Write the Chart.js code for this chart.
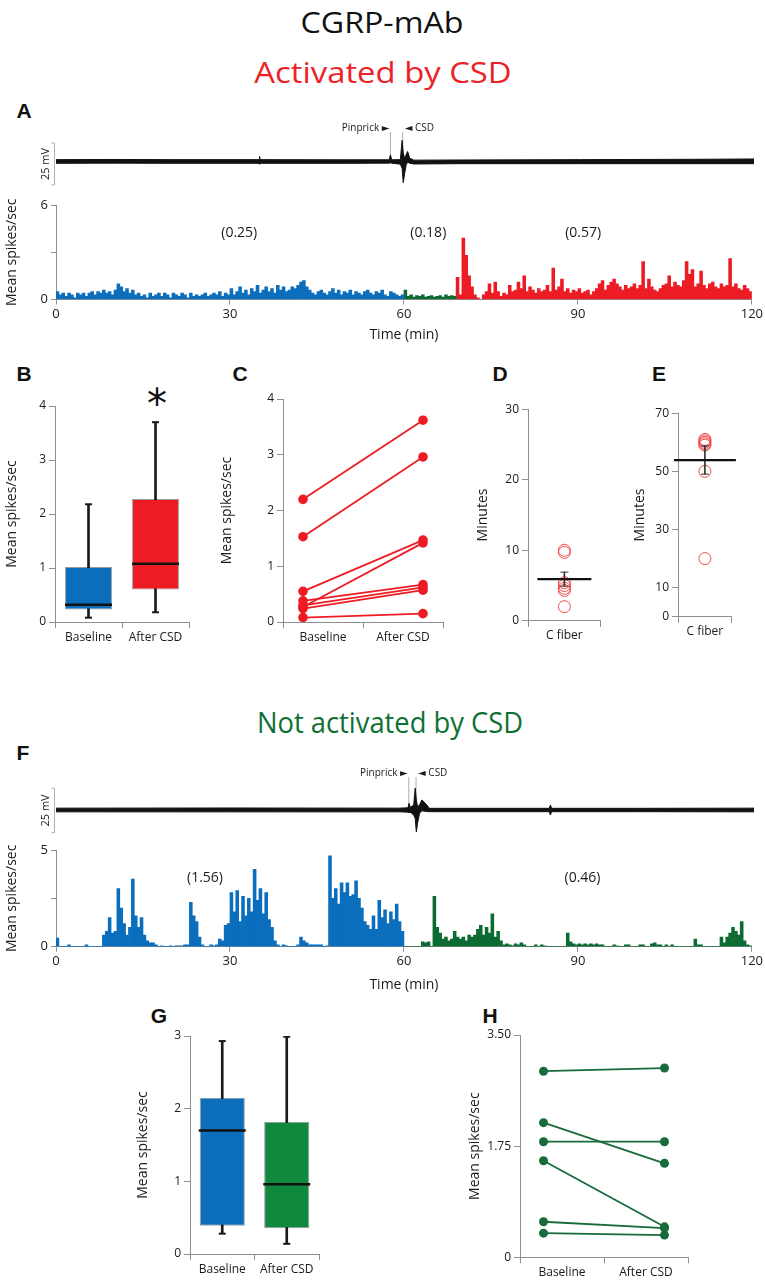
<!DOCTYPE html>
<html lang="en">
<head>
<meta charset="utf-8">
<title>CGRP-mAb</title>
<script src="https://cdn.jsdelivr.net/npm/chart.js@4.4.0/dist/chart.umd.min.js"></script>
<style>
  html, body { margin: 0; padding: 0; background: #fff; }
  #fig { position: relative; width: 765px; height: 1280px; overflow: hidden; font-family: "Open Sans", sans-serif; color: #111; }
  #fig canvas { position: absolute; }
  .txt { position: absolute; white-space: nowrap; line-height: 1; transform: translate(-50%, -50%); }
  .panel { font-family: "Liberation Sans", Arial, sans-serif; font-weight: bold; font-size: 21px; }
</style>
</head>
<body>
<div id="fig"></div>
<script>
// ---- data ----
var BIN = 0.5; // minutes per histogram bin

// A: mean spikes/sec, baseline (0-60), pre-activation (60-69), after CSD (69-120)
var histBlueA = [
  0.5, 0.3, 0.4, 0.2, 0.4, 0.3, 0.1, 0.4, 0.3, 0.4,
  0.2, 0.4, 0.5, 0.3, 0.5, 0.4, 0.6, 0.4, 0.5, 0.3,
  0.6, 1.0, 0.8, 0.5, 0.7, 0.4, 0.6, 0.3, 0.4, 0.2,
  0.3, 0.1, 0.4, 0.2, 0.3, 0.4, 0.2, 0.4, 0.3, 0.1,
  0.4, 0.3, 0.2, 0.4, 0.3, 0.1, 0.4, 0.2, 0.3, 0.2,
  0.3, 0.4, 0.2, 0.3, 0.4, 0.3, 0.5, 0.2, 0.4, 0.3,
  0.7, 0.3, 0.5, 0.8, 0.4, 0.6, 0.3, 0.7, 0.5, 0.9,
  0.4, 0.6, 0.8, 0.5, 0.7, 0.4, 0.9, 0.6, 0.8, 0.5,
  0.6, 0.8, 0.7, 0.9, 1.1, 1.2, 0.8, 0.6, 0.4, 0.3,
  0.5, 0.6, 0.4, 0.3, 0.5, 0.7, 0.4, 0.6, 0.3, 0.5,
  0.4, 0.6, 0.3, 0.5, 0.4, 0.3, 0.5, 0.6, 0.4, 0.3,
  0.5, 0.4, 0.6, 0.3, 0.2, 0.5, 0.4, 0.3, 0.2, 0.3
];
var histGreenA = [0.6, 0.2, 0.3, 0.15, 0.25, 0.2, 0.3, 0.15, 0.2, 0.25, 0.15, 0.2, 0.25, 0.15, 0.3, 0.2, 0.25, 0.2];
var histRedA = [
  1.4, 0.3, 3.9, 2.8, 1.5, 0.8, 0.3, 0.1, 0.0, 0.3,
  0.5, 1.0, 0.4, 1.1, 0.5, 0.2, 0.4, 0.3, 0.9, 0.5,
  0.6, 1.1, 0.7, 1.5, 0.5, 0.8, 0.6, 0.4, 0.7, 0.5,
  0.6, 0.9, 0.5, 2.0, 0.6, 0.8, 1.3, 0.5, 0.7, 0.4,
  0.6, 0.5, 0.7, 0.4, 0.5, 0.6, 0.3, 0.5, 0.7, 1.0,
  1.2, 0.6, 0.9, 1.1, 1.3, 1.0, 0.8, 0.6, 0.9, 0.7,
  0.8, 1.0, 0.7, 0.9, 2.4, 0.7, 1.3, 0.8, 0.6, 0.5,
  0.7, 0.9, 1.0, 1.5, 0.8, 1.1, 0.9, 0.8, 1.2, 2.4,
  1.6, 1.9, 0.8, 1.0, 1.8, 0.9, 0.7, 1.0, 1.1, 0.8,
  0.7, 1.0, 0.8, 0.9, 2.6, 0.8, 1.0, 0.7, 0.6, 0.9,
  0.7, 0.5
];
var periodTextA = ["(0.25)", "(0.18)", "(0.57)"];
var periodTimeA = [31.6, 64.2, 90.9];

// F: baseline (0-60) and after CSD (60-120)
var histBlueF = [
  0.45, 0, 0, 0, 0.1, 0, 0, 0, 0, 0,
  0.1, 0, 0, 0, 0, 0, 0.6, 0.8, 1.5, 0.7,
  0.8, 3.0, 2.0, 1.2, 0.6, 1.0, 3.5, 1.6, 1.0, 1.5,
  0.6, 0.3, 0.2, 0.2, 0.1, 0, 0.05, 0, 0, 0.05,
  0, 0.05, 0.05, 0.05, 0.1, 0.1, 2.3, 1.6, 1.3, 0.5,
  0.1, 0, 0, 0.1, 0.05, 0.1, 0.4, 0.3, 1.1, 1.2,
  2.8, 1.8, 2.9, 1.3, 2.6, 1.6, 2.5, 1.8, 4.0, 2.4,
  3.0, 1.7, 2.8, 1.4, 1.0, 0.3, 0.1, 0, 0.1, 0.05,
  0, 0, 0, 0.1, 0.5, 0.3, 0.2, 0.1, 0.1, 0.1,
  0.1, 0.1, 0, 0.05, 4.7, 2.5, 3.0, 2.2, 3.3, 2.8,
  3.3, 2.6, 2.7, 3.4, 2.5, 2.0, 1.3, 1.1, 0.9, 1.6,
  0.9, 2.4, 1.5, 1.9, 1.2, 1.8, 1.4, 2.2, 1.3, 0.8
];
var histGreenF = [
  0, 0, 0, 0, 0, 0, 0.25, 0.2, 0.25, 0,
  2.6, 1.0, 0.7, 0.4, 0.5, 0.3, 0.4, 0.8, 0.5, 0.4,
  0.5, 0.3, 0.6, 0.5, 0.6, 0.9, 1.1, 0.6, 1.0, 0.7,
  1.7, 0.5, 0.8, 0.3, 0.1, 0.15, 0.1, 0.05, 0.15, 0.1,
  0.2, 0.1, 0, 0, 0, 0.1, 0, 0.1, 0.05, 0,
  0, 0, 0, 0, 0, 0, 0.7, 0.25, 0.15, 0.1,
  0.15, 0.1, 0.15, 0.1, 0.15, 0.1, 0.15, 0.1, 0.1, 0,
  0, 0, 0.1, 0.05, 0, 0, 0.1, 0.1, 0, 0,
  0, 0.1, 0.1, 0, 0, 0.15, 0.2, 0.1, 0.1, 0,
  0.1, 0, 0.1, 0, 0, 0, 0, 0, 0, 0,
  0.4, 0.1, 0.1, 0, 0, 0, 0, 0, 0, 0.5,
  0.2, 0.5, 0.7, 1.0, 0.8, 0.6, 1.3, 0.3, 0.1, 0.05
];
var periodTextF = ["(1.56)", "(0.46)"];
var periodTimeF = [25.7, 90.8];

// raw trace envelopes (mV around baseline)
var traceTimeA = [0, 10, 20, 34.9, 35.0, 35.1, 50, 57.3, 57.5, 57.7, 59.2, 59.5, 59.7, 59.9, 60.2, 60.45, 60.8, 61.5, 70, 90, 110, 120];
var traceHighA = [1.1, 1.2, 1.1, 1.1, 3.0, 1.1, 1.0, 1.0, 4.0, 1.0, 1.1, 12.6, 5.0, 2.0, 4.0, 6.0, 2.0, 0.8, 0.9, 1.1, 1.3, 1.5];
var traceLowA = [-1.1, -1.0, -1.1, -1.1, -1.6, -1.1, -1.1, -1.0, -0.8, -1.0, -1.6, -4.0, -12.6, -8.0, -2.0, -0.5, -1.0, -1.5, -1.3, -1.3, -1.3, -1.3];
var traceTimeF = [0, 30, 59, 60.5, 60.7, 60.9, 61.5, 61.75, 61.95, 62.15, 62.5, 62.9, 63.5, 64.2, 84.8, 85.0, 85.2, 100, 120];
var traceHighF = [1.1, 1.2, 1.1, 1.3, 4.0, 1.6, 3.0, 13.0, 6.0, 2.0, 3.0, 6.0, 4.0, 1.0, 1.0, 3.0, 1.0, 1.0, 1.1];
var traceLowF = [-1.1, -1.1, -1.1, -1.3, -1.6, -1.3, -3.0, -5.0, -13.0, -8.0, -2.0, -0.5, -0.8, -1.0, -1.0, -3.0, -1.0, -1.0, -1.1];

// B / G box plots
var boxCats = ["Baseline", "After CSD"];
var bMin = [0.08, 0.18], bQ1 = [0.23, 0.60], bMed = [0.32, 1.08], bQ3 = [1.02, 2.28], bMax = [2.18, 3.70];
var gMin = [0.28, 0.14], gQ1 = [0.39, 0.355], gMed = [1.70, 0.96], gQ3 = [2.15, 1.82], gMax = [2.93, 2.99];

// C / H paired units
var pairTickValues = [0, 0.5, 1, 1.5, 2];
var pairTickLabels = ["", "Baseline", "", "After CSD", ""];
var cBaseline = [2.20, 1.53, 0.55, 0.27, 0.38, 0.30, 0.24, 0.08];
var cAfter = [3.62, 2.96, 1.47, 1.42, 0.67, 0.62, 0.57, 0.15];
var hBaseline = [2.93, 2.12, 1.82, 1.52, 0.56, 0.38];
var hAfter = [2.98, 1.48, 1.82, 0.48, 0.46, 0.35];
var hTickValues = [0, 1.75, 3.5];
var hTickLabels = ["0", "1.75", "3.50"];

// D / E latency (minutes)
var latencyCat = ["C fiber"];
var dVals = [10, 9.7, 5.4, 5.0, 4.6, 4.3, 2.0];
var dMean = 5.9, dSem = 1.0;
var eVals = [61, 60.5, 60, 59.5, 59, 50, 20];
var eMean = 53.9, eSem = 4.85;
var eTickValues = [0, 10, 30, 50, 70];
var eTickLabels = ["0", "10", "30", "50", "70"];

// ---- drawing ----
var fig = document.getElementById("fig");
var INK = "#1a1a1a", AXIS = "#8f8f8f";
var BLUE = "#0a6ebd", RED = "#ed1c24", GREEN = "#0b6b33", GREEN_BOX = "#10893f", GREEN_LINE = "#186b3b";
var CIRCLE = "rgba(238,60,60,0.9)";
Chart.defaults.font.family = '"Open Sans", "DejaVu Sans", sans-serif';
Chart.defaults.color = INK;

function addCanvas(left, top, width, height) {
  var c = document.createElement("canvas");
  c.width = width;
  c.height = height;
  c.style.left = left + "px";
  c.style.top = top + "px";
  c.style.width = width + "px";
  c.style.height = height + "px";
  fig.appendChild(c);
  return c.getContext("2d");
}

function addText(str, x, y, size, cls, color, fitWidth) {
  var d = document.createElement("div");
  d.className = "txt" + (cls ? " " + cls : "");
  d.textContent = str;
  d.style.left = x + "px";
  d.style.top = y + "px";
  if (size) d.style.fontSize = size + "px";
  if (color) d.style.color = color;
  fig.appendChild(d);
  if (fitWidth) {
    d.style.transform = "translate(-50%, -50%) scaleX(" + (fitWidth / d.offsetWidth) + ")";
  }
  return d;
}

function baseOptions(pad) {
  return {
    responsive: false,
    animation: false,
    events: [],
    layout: { padding: pad },
    plugins: { legend: { display: false }, tooltip: { enabled: false } }
  };
}

function yScale(o) {
  var s = {
    min: o.min,
    max: o.max,
    afterFit: function (scale) { scale.width = o.width; },
    border: { display: true, color: AXIS },
    grid: { drawOnChartArea: false, tickLength: o.tickLength || 6, color: AXIS },
    ticks: { autoSkip: false, padding: 3, color: INK, font: { size: o.fontSize || 12 }, stepSize: o.step },
    title: { display: true, text: o.title, color: INK, font: { size: 14 }, padding: { top: o.titlePad, bottom: 0 } }
  };
  if (o.tickValues) {
    s.afterBuildTicks = function (scale) {
      scale.ticks = o.tickValues.map(function (v) { return { value: v }; });
    };
    s.ticks.callback = function (v) { return o.tickLabels[o.tickValues.indexOf(v)]; };
  }
  return s;
}

function xCatScale(height) {
  return {
    type: "category",
    offset: true,
    afterFit: function (scale) { scale.height = height; },
    border: { display: true, color: AXIS },
    grid: { offset: true, drawOnChartArea: false, tickLength: 6, color: AXIS },
    ticks: { autoSkip: false, maxRotation: 0, padding: 2, color: INK, font: { size: 12 } }
  };
}

function xPairScale(height) {
  return {
    type: "linear",
    min: 0,
    max: 2,
    afterFit: function (scale) { scale.height = height; },
    afterBuildTicks: function (scale) {
      scale.ticks = pairTickValues.map(function (v) { return { value: v }; });
    },
    border: { display: true, color: AXIS },
    grid: {
      drawOnChartArea: false,
      tickLength: 6,
      color: AXIS,
      tickColor: function (c) { return c.tick && c.tick.value % 1 === 0 ? AXIS : "rgba(0,0,0,0)"; }
    },
    ticks: {
      autoSkip: false, maxRotation: 0, padding: 2, color: INK, font: { size: 12 },
      callback: function (v) { return pairTickLabels[pairTickValues.indexOf(v)]; }
    }
  };
}

// text over the histograms, anchored on the time axis
function periodLabels(texts, times, level) {
  return {
    id: "periodLabels",
    afterDatasetsDraw: function (chart) {
      var ctx = chart.ctx, xs = chart.scales.x, ys = chart.scales.y;
      ctx.save();
      ctx.fillStyle = INK;
      ctx.font = '14px "Open Sans", sans-serif';
      ctx.textAlign = "center";
      ctx.textBaseline = "middle";
      texts.forEach(function (t, i) {
        ctx.fillText(t, xs.getPixelForValue(times[i]), ys.getPixelForValue(level));
      });
      ctx.restore();
    }
  };
}

function histChart(top, height, sets, yMax, yTicks, yLabels, xHeight, texts, times, level) {
  var ctx = addCanvas(0, top, 765, height);
  var opts = baseOptions({ left: 0, top: 15, right: 11, bottom: 0 });
  opts.scales = {
    x: {
      type: "linear", min: 0, max: 120, offset: false,
      afterFit: function (scale) { scale.height = xHeight; },
      afterBuildTicks: function (scale) {
        scale.ticks = [0, 30, 60, 90, 120].map(function (v) { return { value: v }; });
      },
      border: { display: true, color: AXIS },
      grid: { offset: false, drawOnChartArea: false, tickLength: 5, color: AXIS },
      ticks: { autoSkip: false, maxRotation: 0, padding: 2, color: INK, font: { size: 13 } },
      title: { display: true, text: "Time (min)", color: INK, font: { size: 14 }, padding: { top: 0, bottom: 2 } }
    },
    y: yScale({ min: 0, max: yMax, width: 56, tickLength: 5, fontSize: 13, title: "Mean spikes/sec", titlePad: 3.6, tickValues: yTicks, tickLabels: yLabels })
  };
  new Chart(ctx, {
    type: "bar",
    data: {
      datasets: sets.map(function (s) {
        return {
          data: s.vals.map(function (v, i) { return { x: s.start + (i + 0.5) * BIN, y: v }; }),
          backgroundColor: s.color,
          borderWidth: 0,
          barPercentage: 1,
          categoryPercentage: 1,
          grouped: false
        };
      })
    },
    options: opts,
    plugins: [periodLabels(texts, times, level)]
  });
}

// pinprick / CSD markers and the 25 mV scale bar
function traceMarks(pin, csd, barTop, barBottom, labelY) {
  return {
    id: "traceMarks",
    beforeDatasetsDraw: function (chart) {
      var ctx = chart.ctx, xs = chart.scales.x, ys = chart.scales.y, a = chart.chartArea;
      var xp = xs.getPixelForValue(pin), xc = xs.getPixelForValue(csd);
      ctx.save();
      ctx.strokeStyle = "#9a9a9a";
      ctx.lineWidth = 0.8;
      ctx.beginPath();
      ctx.moveTo(xp, labelY + 4); ctx.lineTo(xp, ys.getPixelForValue(0));
      ctx.moveTo(xc, labelY + 4); ctx.lineTo(xc, ys.getPixelForValue(0));
      var bx = a.left - 1.5, y1 = ys.getPixelForValue(barTop), y2 = ys.getPixelForValue(barBottom);
      ctx.moveTo(bx, y1); ctx.lineTo(bx, y2);
      ctx.moveTo(bx - 3, y1); ctx.lineTo(bx, y1);
      ctx.moveTo(bx - 3, y2); ctx.lineTo(bx, y2);
      ctx.stroke();
      ctx.fillStyle = INK;
      ctx.font = '10px "Open Sans", "DejaVu Sans", sans-serif';
      ctx.textBaseline = "middle";
      ctx.textAlign = "right";
      ctx.fillText("Pinprick \u25BA", xp - 1, labelY);
      ctx.textAlign = "left";
      ctx.fillText("\u25C4 CSD", xc + 2, labelY);
      ctx.translate(bx - 9, (y1 + y2) / 2);
      ctx.rotate(-Math.PI / 2);
      ctx.textAlign = "center";
      ctx.font = '11px "Open Sans", sans-serif';
      ctx.fillText("25 mV", 0, 0);
      ctx.restore();
    }
  };
}

function traceChart(top, height, times, hi, lo, yMin, yMax, marks) {
  var ctx = addCanvas(30, top, 735, height);
  var opts = baseOptions({ left: 26, top: 0, right: 11, bottom: 0 });
  opts.scales = {
    x: { type: "linear", display: false, min: 0, max: 120 },
    y: { display: false, min: yMin, max: yMax }
  };
  new Chart(ctx, {
    type: "line",
    data: {
      datasets: [
        { data: times.map(function (t, i) { return { x: t, y: hi[i] }; }), borderColor: "#111", backgroundColor: "#111", borderWidth: 1, pointRadius: 0, fill: "+1" },
        { data: times.map(function (t, i) { return { x: t, y: lo[i] }; }), borderColor: "#111", borderWidth: 1, pointRadius: 0, fill: false }
      ]
    },
    options: opts,
    plugins: [marks]
  });
}

function boxChart(left, top, yWidth, pad, xHeight, yMax, titlePad, mins, q1, med, q3, maxs, colors) {
  var ctx = addCanvas(left, top, pad.w, 270);
  var opts = baseOptions({ left: 0, top: pad.top, right: pad.right, bottom: 0 });
  opts.scales = {
    x: xCatScale(xHeight),
    y: yScale({ min: 0, max: yMax, step: 1, width: yWidth, title: "Mean spikes/sec", titlePad: titlePad })
  };
  new Chart(ctx, {
    type: "bar",
    data: {
      labels: boxCats,
      datasets: [
        { type: "bar", data: q1.map(function (v, i) { return [v, q3[i]]; }), backgroundColor: colors, borderColor: "rgba(0,0,0,0.4)", borderWidth: 1, borderSkipped: false, barPercentage: 0.7, categoryPercentage: 1, grouped: false, order: 3 },
        { type: "bar", data: mins.map(function (v, i) { return [v, maxs[i]]; }), backgroundColor: "#1a1a1a", barThickness: 2, grouped: false, order: 4 },
        { type: "line", data: med, showLine: false, pointStyle: "line", pointRadius: 23.5, pointBorderWidth: 2.5, pointBorderColor: "#111", order: 1 },
        { type: "line", data: maxs, showLine: false, pointStyle: "line", pointRadius: 3.5, pointBorderWidth: 2, pointBorderColor: "#1a1a1a", order: 2 },
        { type: "line", data: mins, showLine: false, pointStyle: "line", pointRadius: 3.5, pointBorderWidth: 2, pointBorderColor: "#1a1a1a", order: 2 }
      ]
    },
    options: opts
  });
}

function pairChart(left, top, width, yWidth, padTop, padRight, xHeight, y, base, after, xs, color, radius) {
  var ctx = addCanvas(left, top, width, 270);
  var opts = baseOptions({ left: 0, top: padTop, right: padRight, bottom: 0 });
  opts.scales = { x: xPairScale(xHeight), y: y };
  new Chart(ctx, {
    type: "line",
    data: {
      datasets: base.map(function (b, i) {
        return {
          data: [{ x: xs[0], y: b }, { x: xs[1], y: after[i] }],
          borderColor: color, borderWidth: 1.8,
          pointRadius: radius, pointBackgroundColor: color, pointBorderWidth: 0
        };
      })
    },
    options: opts
  });
}

function latencyChart(left, width, yWidth, padTop, padRight, xHeight, y, vals, mean, sem, meanHalf) {
  var ctx = addCanvas(left, 380, width, 270);
  var cat = latencyCat[0];
  var opts = baseOptions({ left: 0, top: padTop, right: padRight, bottom: 0 });
  opts.scales = { x: xCatScale(xHeight), y: y };
  new Chart(ctx, {
    type: "line",
    data: {
      labels: latencyCat,
      datasets: [
        { data: vals.map(function (v) { return { x: cat, y: v }; }), showLine: false, pointRadius: 6, pointBorderWidth: 1, pointBorderColor: CIRCLE, pointBackgroundColor: "rgba(255,255,255,0)", order: 3 },
        { type: "bar", data: [[mean - sem, mean + sem]], backgroundColor: "#333", barThickness: 1, grouped: false, order: 2 },
        { data: [{ x: cat, y: mean - sem }, { x: cat, y: mean + sem }], showLine: false, pointStyle: "line", pointRadius: 4, pointBorderWidth: 1, pointBorderColor: "#333", order: 2 },
        { data: [{ x: cat, y: mean }], showLine: false, pointStyle: "line", pointRadius: meanHalf, pointBorderWidth: 2.2, pointBorderColor: "#111", order: 1 }
      ]
    },
    options: opts
  });
}

// headings and panel letters
addText("CGRP-mAb", 382, 22, 30, "", "#111", 163);
addText("Activated by CSD", 383, 72, 30, "", "#ec2227", 257);
addText("Not activated by CSD", 390, 722, 30, "", "#0f7035", 266);
addText("A", 24, 110, 0, "panel");
addText("B", 24, 373, 0, "panel");
addText("C", 240, 373, 0, "panel");
addText("D", 500, 373, 0, "panel");
addText("E", 659, 373, 0, "panel");
addText("F", 23, 752, 0, "panel");
addText("G", 159, 1015, 0, "panel");
addText("H", 490, 1015, 0, "panel");
var star = addText("*", 157, 404, 40, "", "#111");
star.style.fontFamily = '"DejaVu Sans", sans-serif';

// A
traceChart(115, 75, traceTimeA, traceHighA, traceLowA, -17, 27.7, traceMarks(57.5, 59.6, 11, -14, 13));
histChart(190, 155, [
  { vals: histBlueA, start: 0, color: BLUE },
  { vals: histGreenA, start: 60, color: GREEN },
  { vals: histRedA, start: 69, color: RED }
], 6, [0, 3, 6], ["0", "", "6"], 45.5, periodTextA, periodTimeA, 4.2);

// B - E
boxChart(0, 380, 55, { w: 215, top: 19, right: 23 }, 28, 4, 3.6, bMin, bQ1, bMed, bQ3, bMax, [BLUE, RED]);
pairChart(215, 380, 250, 68, 19, 22, 28,
  yScale({ min: 0, max: 4, step: 1, width: 68, title: "Mean spikes/sec", titlePad: 3.6 }),
  cBaseline, cAfter, [0.25, 1.75], RED, 4.8);
latencyChart(470, 160, 58, 19, 19, 28,
  yScale({ min: 0, max: 30, step: 10, width: 58, title: "Minutes", titlePad: 4.6 }),
  dVals, dMean, dSem, 27);
latencyChart(625, 140, 53, 20.7, 4, 28.3,
  yScale({ min: 0, max: 70, width: 53, title: "Minutes", titlePad: 6.6, tickValues: eTickValues, tickLabels: eTickLabels }),
  eVals, eMean, eSem, 31);

// F
traceChart(762, 78, traceTimeF, traceHighF, traceLowF, -17.86, 28.57, traceMarks(60.65, 61.9, 13, -13.5, 11));
histChart(835, 160, [
  { vals: histBlueF, start: 0, color: BLUE },
  { vals: histGreenF, start: 60, color: GREEN }
], 5, [0, 2.5, 5], ["0", "", "5"], 48.3, periodTextF, periodTimeF, 3.55);

// G, H
boxChart(130, 1010, 60, { w: 215, top: 25, right: 18 }, 22.7, 3, 4.6, gMin, gQ1, gMed, gQ3, gMax, [BLUE, GREEN_BOX]);
pairChart(460, 1010, 250, 60, 25, 22, 22.7,
  yScale({ min: 0, max: 3.5, width: 60, title: "Mean spikes/sec", titlePad: 6.6, tickValues: hTickValues, tickLabels: hTickLabels }),
  hBaseline, hAfter, [0.28, 1.72], GREEN_LINE, 4.5);
</script>
</body>
</html>
